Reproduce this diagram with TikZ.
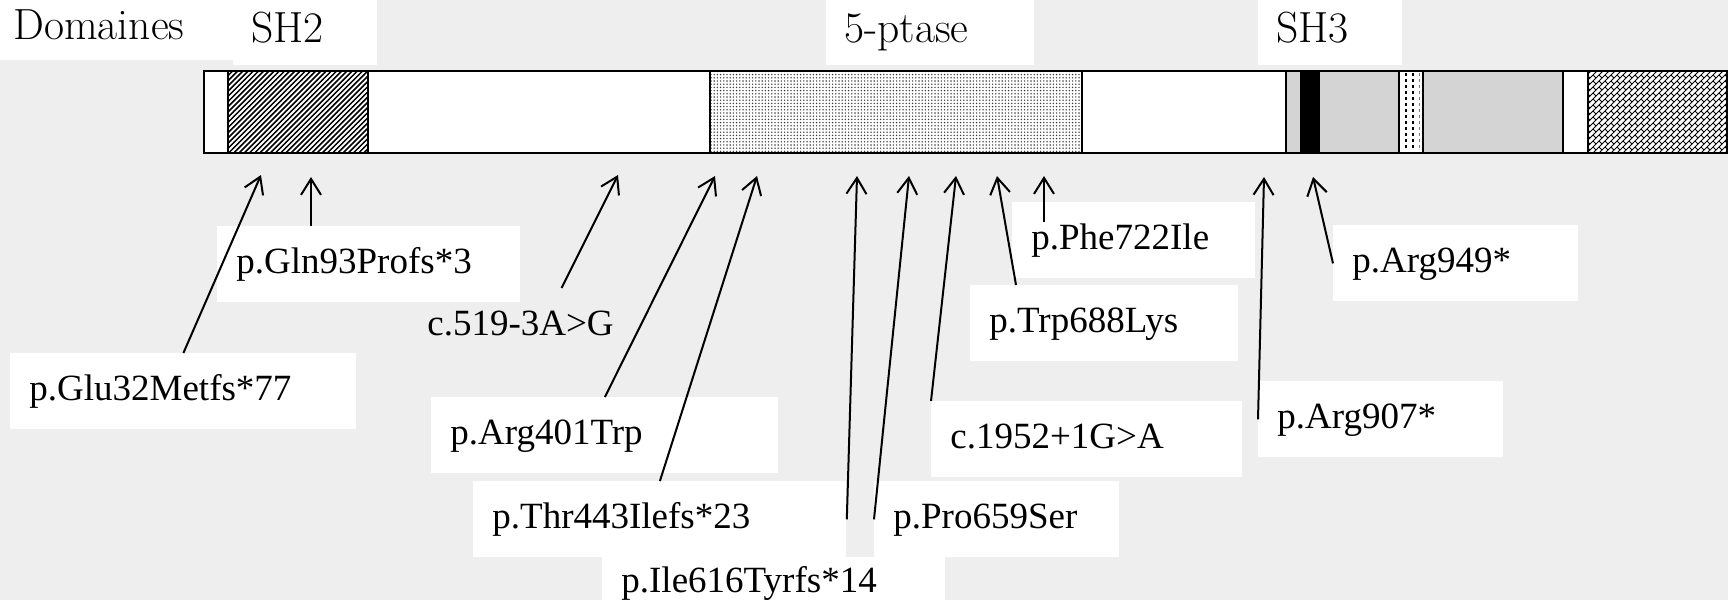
\documentclass[tikz,border=0pt]{standalone}
\usepackage{fontspec}
\usetikzlibrary{arrows.meta,patterns,calc}
\newfontfamily\mutfont{Liberation Serif}
\definecolor{paper}{RGB}{238,238,238}
\definecolor{shthree}{RGB}{212,212,212}

\pgfdeclarepatternformonly{sh2 lines}{\pgfqpoint{-1pt}{-1pt}}{\pgfqpoint{3.6pt}{3.6pt}}{\pgfqpoint{2.6pt}{2.6pt}}{%
  \pgfsetlinewidth{0.75pt}%
  \pgfpathmoveto{\pgfqpoint{0pt}{0pt}}%
  \pgfpathlineto{\pgfqpoint{2.7pt}{2.7pt}}%
  \pgfusepath{stroke}}
\pgfdeclarepatternformonly{ptase dots}{\pgfqpoint{-0.5pt}{-0.5pt}}{\pgfqpoint{1.1pt}{1.1pt}}{\pgfqpoint{1.6pt}{1.6pt}}{%
  \pgfpathcircle{\pgfqpoint{0.3pt}{0.3pt}}{0.4pt}%
  \pgfusepath{fill}}
\pgfdeclarepatternformonly{shingles}{\pgfqpoint{-0.5pt}{-0.5pt}}{\pgfqpoint{3.5pt}{3.5pt}}{\pgfqpoint{3pt}{3pt}}{%
  \pgfsetlinewidth{0.5pt}%
  \pgfpathmoveto{\pgfqpoint{0pt}{0pt}}\pgfpathlineto{\pgfqpoint{3pt}{3pt}}%
  \pgfpathmoveto{\pgfqpoint{3pt}{0pt}}\pgfpathlineto{\pgfqpoint{1.5pt}{1.5pt}}%
  \pgfusepath{stroke}}

\tikzstyle{seg}=[draw=black, line width=1.3pt, fill=white]
\tikzstyle{sh2box}=[seg, preaction={fill=white}, pattern=sh2 lines]
\tikzstyle{ptasebox}=[seg, preaction={fill=white}, pattern=ptase dots, pattern color=black!75]
\tikzstyle{sh3box}=[seg, fill=shthree]
\tikzstyle{tailbox}=[seg, preaction={fill=white}, pattern=shingles]
\tikzstyle{domainlabel}=[fill=white, anchor=north west, inner xsep=9pt, inner ysep=0pt, minimum height=32.5pt, text height=14.5pt, text depth=5pt, align=left, font=\fontsize{21.8}{26}\selectfont]
\tikzstyle{mut}=[fill=white, anchor=north west, inner xsep=9.5pt, inner ysep=0pt, minimum height=38pt, text height=13pt, text depth=4pt, align=left, font=\mutfont\fontsize{18.5}{22}\selectfont]
\tikzstyle{mutarrow}=[line width=1pt, -{Straight Barb[length=8pt,width=10pt]}]

\begin{document}
\begin{tikzpicture}[x=0.5pt, y=-0.5pt]
    \useasboundingbox (0,0) rectangle (1728,600);
    \fill[paper] (0,0) rectangle (1728,600);

    \draw[seg] (204,71) rectangle (228,153);
    \draw[sh2box] (228,71) rectangle (368,153);
    \draw[seg] (368,71) rectangle (710,153);
    \draw[ptasebox] (710,71) rectangle (1082,153);
    \draw[seg] (1082,71) rectangle (1286,153);
    \draw[sh3box] (1286,71) rectangle (1563,153);
    \fill[black] (1300,71) rectangle (1320,153);
    \draw[seg, line width=1pt] (1399,71) rectangle (1423,153);
    \draw[line width=0.7pt, dash pattern=on 1.5pt off 1.5pt] (1406,73) -- (1406,151) (1413,73) -- (1413,151);
    \draw[gray, line width=0.5pt, dash pattern=on 1.5pt off 1.5pt] (1419,73) -- (1419,151);
    \draw[seg] (1563,71) rectangle (1588,153);
    \draw[tailbox] (1588,71) rectangle (1727,153);

    \node[domainlabel, text width=101pt, minimum height=30pt] (domaines) at (-5,0) {Domaines};
    \node[domainlabel, text width=54pt] (sh2) at (233,0) {SH2};
    \node[domainlabel, text width=86pt] (ptase) at (826,0) {5-ptase};
    \node[domainlabel, text width=54pt] (sh3) at (1258,0) {SH3};

    \coordinate (tGlu) at (261,175);
    \coordinate (tGln) at (311,177);
    \coordinate (tC519) at (618,175);
    \coordinate (tArg401) at (715,176);
    \coordinate (tThr) at (757,176);
    \coordinate (tIle) at (857,176);
    \coordinate (tPro) at (909,176);
    \coordinate (tC1952) at (956,176);
    \coordinate (tTrp) at (997,176);
    \coordinate (tPhe) at (1044,176);
    \coordinate (tArg907) at (1264,177);
    \coordinate (tArg949) at (1313,177);

    \node[mut, text width=132.5pt] (gln) at (217,226) {p.Gln93Profs*3};
    \node[mut, text width=154pt] (glu) at (10,353) {p.Glu32Metfs*77};
    \node[mut, fill=none] (c519) at (408,288) {c.519-3A>G};
    \node[mut, text width=154.5pt] (arg401) at (431,397) {p.Arg401Trp};
    \node[mut, text width=167.5pt] (thr443) at (473,481) {p.Thr443Ilefs*23};
    \node[mut, text width=152.5pt, minimum height=26pt] (ile616) at (602,557) {p.Ile616Tyrfs*14};
    \node[mut, text width=103.5pt] (pro659) at (874,481) {p.Pro659Ser};
    \node[mut, text width=136.5pt] (c1952) at (931,401) {c.1952+1G>A};
    \node[mut, text width=115pt] (trp688) at (970,285) {p.Trp688Lys};
    \node[mut, text width=102.5pt] (phe722) at (1012,202) {p.Phe722Ile};
    \node[mut, text width=103.5pt] (arg949) at (1333,225) {p.Arg949*};
    \node[mut, text width=103.5pt] (arg907) at (1258,381) {p.Arg907*};

    \draw[mutarrow] (glu.north) -- (tGlu);
    \draw[mutarrow] (tGln |- gln.north) -- (tGln);
    \draw[mutarrow] ([xshift=20.5pt]c519.north) -- (tC519);
    \draw[mutarrow] (arg401.north) -- (tArg401);
    \draw[mutarrow] (thr443.north) -- (tThr);
    \draw[mutarrow] (thr443.east) -- (tIle);
    \draw[mutarrow] (pro659.west) -- (tPro);
    \draw[mutarrow] (c1952.north west) -- (tC1952);
    \draw[mutarrow] ([xshift=23pt]trp688.north west) -- (tTrp);
    \draw[mutarrow] ($(tPhe |- phe722.north)+(0,20)$) -- (tPhe);
    \draw[mutarrow] (arg949.west) -- (tArg949);
    \draw[mutarrow] (arg907.west) -- (tArg907);
\end{tikzpicture}
\end{document}
